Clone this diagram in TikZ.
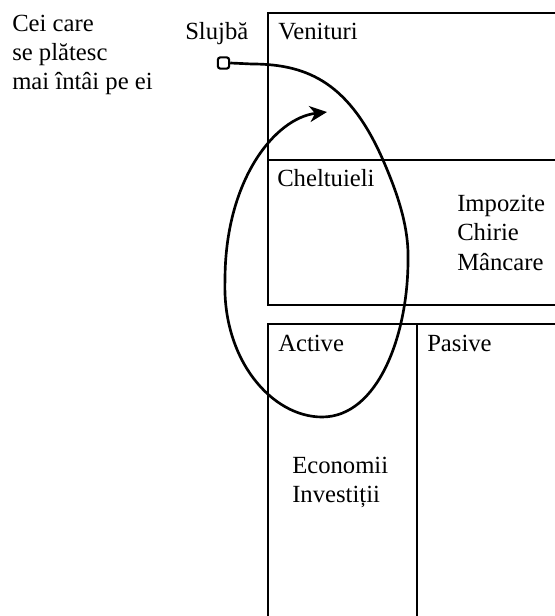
\documentclass[tikz,border=0pt]{standalone}
\usepackage{fontspec}
\setmainfont{Liberation Serif}
\usetikzlibrary{arrows.meta}
\begin{document}
\begin{tikzpicture}[x=0.75pt,y=-0.75pt,
  lbl/.style={anchor=base west,inner sep=0pt,font=\fontsize{18.5}{22}\selectfont},
  frame/.style={line width=0.8pt},
  startmark/.style={draw,line width=1.6pt,rounded corners=2pt,minimum size=8.5pt,inner sep=0pt},
  loopline/.style={line width=2pt,line join=round,-{Stealth[length=13pt,width=12pt,inset=4pt]}}]
\useasboundingbox (0,0) rectangle (555,616);
% frames
\draw[frame] (555,13) -- (268,13) -- (268,305) -- (555,305);
\draw[frame] (268,160) -- (555,160);
\draw[frame] (268,616) -- (268,324) -- (555,324);
\draw[frame] (417,324) -- (417,616);
% texts
\node[lbl] (c1) at (12,32) {Cei care};
\node[lbl] (c2) at (12,61) {se plătesc};
\node[lbl] (c3) at (12,90) {mai întâi pe ei};
\node[lbl] (sl) at (185,40) {Slujbă};
\node[lbl] (ve) at (278,40) {Venituri};
\node[lbl] (ch) at (277,187) {Cheltuieli};
\node[lbl] (im) at (457,212) {Impozite};
\node[lbl] (cr) at (457,241) {Chirie};
\node[lbl] (ma) at (457,270) {Mâncare};
\node[lbl] (ac) at (278,351) {Active};
\node[lbl] (pa) at (427,351) {Pasive};
\node[lbl] (ec) at (292,473) {Economii};
\node[lbl] (in) at (292,502) {Investiții};
% loop
\node[startmark] (job) at (223.5,63) {};
\coordinate (tip) at (327,112);
\draw[loopline] (job.east) -- (252,64)
  .. controls (310,64) and (350,85) .. (383,160)
  .. controls (396,190) and (409,225) .. (408,260)
  .. controls (408,335) and (378,417) .. (322,417)
  .. controls (272,417) and (222,360) .. (225,280)
  .. controls (225,180) and (275,118) .. (tip);
\end{tikzpicture}
\end{document}
